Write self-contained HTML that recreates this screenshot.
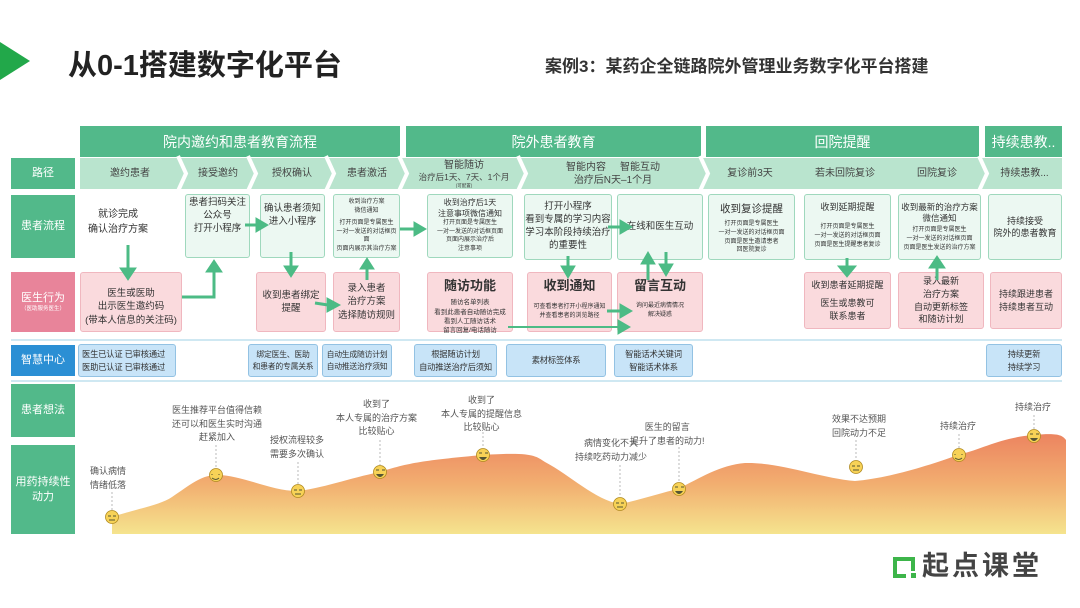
<!DOCTYPE html>
<html><head><meta charset="utf-8"><style>
*{margin:0;padding:0;box-sizing:border-box}
body{width:1080px;height:608px;background:#fff;position:relative;overflow:hidden;font-family:"Liberation Sans","Noto Sans CJK SC",sans-serif;color:#333}
.a{position:absolute}
.lab{position:absolute;left:11px;width:64px;background:#52b98a;color:#fff;font-size:11px;display:flex;flex-direction:column;align-items:center;justify-content:center;text-align:center;line-height:1.35}
.hd{position:absolute;top:126px;height:31px;background:#52b98a;color:#fff;font-size:14px;display:flex;align-items:center;justify-content:center}
.pt{position:absolute;top:158px;height:31px;color:#444;font-size:10px;display:flex;flex-direction:column;align-items:center;justify-content:center;text-align:center;line-height:1.3}
.g{position:absolute;background:#ecf8f2;border:1px solid #9fd8bd;border-radius:3px;font-size:9.5px;display:flex;flex-direction:column;align-items:center;justify-content:center;text-align:center;line-height:1.35;color:#333}
.p{position:absolute;background:#fadadd;border:1px solid #f0b7bf;border-radius:3px;font-size:9.5px;display:flex;flex-direction:column;align-items:center;justify-content:center;text-align:center;line-height:1.4;color:#333}
.b{position:absolute;top:344px;height:33px;background:#c8e4f8;border:1px solid #93c2e3;border-radius:3px;font-size:8.3px;display:flex;flex-direction:column;align-items:center;justify-content:center;text-align:center;line-height:1.5;color:#333;white-space:nowrap;letter-spacing:-0.2px;overflow:hidden}
.s{font-size:6px;line-height:1.45}
.big{font-size:13px;font-weight:bold;margin-bottom:3px}
.t{position:absolute;font-size:9px;color:#555;text-align:center;line-height:1.5;white-space:nowrap}
</style></head><body>
<svg class="a" style="left:0;top:0" width="1080" height="608">
<polygon points="0,42 30,61 0,80" fill="#22a84a"/>
</svg>
<div class="a" style="left:68px;top:42px;font-size:29px;font-weight:bold;color:#222">从0-1搭建数字化平台</div>
<div class="a" style="left:545px;top:52px;font-size:17px;font-weight:bold;color:#333">案例3：某药企全链路院外管理业务数字化平台搭建</div>

<div class="hd" style="left:80px;width:320px">院内邀约和患者教育流程</div>
<div class="hd" style="left:406px;width:295px">院外患者教育</div>
<div class="hd" style="left:706px;width:273px">回院提醒</div>
<div class="hd" style="left:985px;width:77px">持续患教..</div>

<svg class="a" style="left:0;top:0" width="1080" height="608">
<rect x="80" y="158" width="982" height="31" fill="#b9e4ce"/>
<g fill="none" stroke="#fff" stroke-width="4">
<polyline points="178,156 186,173.5 178,191"/>
<polyline points="248,156 256,173.5 248,191"/>
<polyline points="326,156 334,173.5 326,191"/>
<polyline points="399,156 407,173.5 399,191"/>
<polyline points="518,156 526,173.5 518,191"/>
<polyline points="700,156 708,173.5 700,191"/>
<polyline points="979,156 987,173.5 979,191"/>
</g>
<line x1="11" y1="340" x2="1062" y2="340" stroke="#bfe0ee" stroke-width="1.5"/>
<line x1="11" y1="381" x2="1062" y2="381" stroke="#bfe0ee" stroke-width="1.5"/>
</svg>

<div class="lab" style="top:158px;height:31px">路径</div>
<div class="lab" style="top:195px;height:63px">患者流程</div>
<div class="lab" style="top:272px;height:60px;background:#e8849a">医生行为<span style="font-size:5.5px">（医助服务医生）</span></div>
<div class="lab" style="top:345px;height:31px;background:#2b8fd4">智慧中心</div>
<div class="lab" style="top:384px;height:53px">患者想法</div>
<div class="lab" style="top:445px;height:89px">用药持续性<br>动力</div>

<div class="pt" style="left:80px;width:100px">邀约患者</div>
<div class="pt" style="left:186px;width:64px">接受邀约</div>
<div class="pt" style="left:256px;width:72px">授权确认</div>
<div class="pt" style="left:334px;width:66px">患者激活</div>
<div class="pt" style="left:408px;width:112px">智能随访<span style="font-size:8.5px">治疗后1天、7天、1个月</span><span style="font-size:4.5px">(可配置)</span></div>
<div class="pt" style="left:526px;width:174px">智能内容&nbsp;&nbsp;&nbsp;&nbsp;&nbsp;智能互动<span>治疗后N天–1个月</span></div>
<div class="pt" style="left:708px;width:84px">复诊前3天</div>
<div class="pt" style="left:795px;width:100px">若未回院复诊</div>
<div class="pt" style="left:895px;width:84px">回院复诊</div>
<div class="pt" style="left:987px;width:75px">持续患教...</div>

<div class="t" style="left:88px;top:207px;font-size:10px;color:#333">就诊完成<br>确认治疗方案</div>
<div class="g" style="left:185px;top:194px;width:65px;height:64px;justify-content:flex-start;padding-top:2px">患者扫码关注<br>公众号<br>打开小程序</div>
<div class="g" style="left:260px;top:194px;width:65px;height:64px;justify-content:flex-start;padding-top:8px">确认患者须知<br>进入小程序</div>
<div class="g" style="left:333px;top:194px;width:67px;height:64px"><span class="s">收到治疗方案<br>微信通知</span><span class="s" style="margin-top:3px">打开页面是专属医生<br>一对一发送的对话框页面<br>页面内展示其治疗方案</span></div>
<div class="g" style="left:427px;top:194px;width:86px;height:64px;font-size:8px;line-height:1.3">收到治疗后1天<br>注意事项微信通知<span class="s">打开页面是专属医生<br>一对一发送的对话框页面<br>页面内展示治疗后<br>注意事项</span></div>
<div class="g" style="left:524px;top:194px;width:88px;height:66px;font-size:9.5px">打开小程序<br>看到专属的学习内容<br>学习本阶段持续治疗<br>的重要性</div>
<div class="g" style="left:617px;top:194px;width:86px;height:66px">在线和医生互动</div>
<div class="g" style="left:708px;top:194px;width:87px;height:66px;justify-content:flex-start;padding-top:7px"><span style="font-size:10.5px;margin-bottom:4px">收到复诊提醒</span><span class="s">打开页面是专属医生<br>一对一发送的对话框页面<br>页面是医生邀请患者<br>回医院复诊</span></div>
<div class="g" style="left:804px;top:194px;width:87px;height:66px;justify-content:flex-start;padding-top:6px"><span style="font-size:9px;margin-bottom:10px">收到延期提醒</span><span class="s">打开页面是专属医生<br>一对一发送的对话框页面<br>页面是医生提醒患者复诊</span></div>
<div class="g" style="left:898px;top:194px;width:83px;height:66px;font-size:8.5px">收到最新的治疗方案<br>微信通知<span class="s" style="margin-top:2px">打开页面是专属医生<br>一对一发送的对话框页面<br>页面是医生发送的治疗方案</span></div>
<div class="g" style="left:988px;top:194px;width:74px;height:66px;font-size:9px">持续接受<br>院外的患者教育</div>

<div class="p" style="left:80px;top:272px;width:102px;height:60px;padding-top:10px">医生或医助<br>出示医生邀约码<br>(带本人信息的关注码)</div>
<div class="p" style="left:256px;top:272px;width:70px;height:60px">收到患者绑定<br>提醒</div>
<div class="p" style="left:333px;top:272px;width:67px;height:60px">录入患者<br>治疗方案<br>选择随访规则</div>
<div class="p" style="left:427px;top:272px;width:86px;height:60px;justify-content:flex-start;padding-top:4px"><span class="big">随访功能</span><span class="s" style="font-size:6.5px">随访名单列表<br>看到此患者自动随访完成<br>看到人工随访话术<br>留言回复/电话随访</span></div>
<div class="p" style="left:527px;top:272px;width:85px;height:60px;justify-content:flex-start;padding-top:4px"><span class="big" style="margin-bottom:8px">收到通知</span><span class="s" style="font-size:6px">可查看患者打开小程序通知<br>并查看患者的浏览路径</span></div>
<div class="p" style="left:617px;top:272px;width:86px;height:60px;justify-content:flex-start;padding-top:4px"><span class="big" style="margin-bottom:7px">留言互动</span><span class="s" style="font-size:6px">询问最近病情情况<br>解决疑惑</span></div>
<div class="p" style="left:804px;top:272px;width:87px;height:57px;font-size:9px"><span style="margin-bottom:6px">收到患者延期提醒</span>医生或患教可<br>联系患者</div>
<div class="p" style="left:898px;top:272px;width:86px;height:57px;font-size:9px">录入最新<br>治疗方案<br>自动更新标签<br>和随访计划</div>
<div class="p" style="left:990px;top:272px;width:72px;height:57px;font-size:9px">持续跟进患者<br>持续患者互动</div>

<div class="b" style="left:78px;width:98px;align-items:flex-start;padding-left:3px">医生已认证 已审核通过<br>医助已认证 已审核通过</div>
<div class="b" style="left:248px;width:70px;font-size:7.8px">绑定医生、医助<br>和患者的专属关系</div>
<div class="b" style="left:322px;width:70px;font-size:7.8px">自动生成随访计划<br>自动推送治疗须知</div>
<div class="b" style="left:414px;width:83px">根据随访计划<br>自动推送治疗后须知</div>
<div class="b" style="left:506px;width:100px">素材标签体系</div>
<div class="b" style="left:614px;width:79px">智能话术关键词<br>智能话术体系</div>
<div class="b" style="left:986px;width:76px">持续更新<br>持续学习</div>

<svg class="a" style="left:0;top:0" width="1080" height="608">
<defs><linearGradient id="gr" x1="0" y1="0" x2="0" y2="1">
<stop offset="0" stop-color="#ec8460"/><stop offset="0.5" stop-color="#f2ae70"/><stop offset="1" stop-color="#f5e48e"/></linearGradient></defs>
<path d="M112,517 C140,508 160,505 172,497 C190,485 200,476 215,475 C240,474 270,491 297,491 C320,489 350,478 380,472 C410,462 430,460 482,455 C530,452 535,455 545,462 C570,475 595,500 620,504 C640,500 660,493 678,489 C700,478 720,465 745,463 C780,462 820,478 855,481 C890,478 930,465 958,455 C985,448 1000,438 1033,435 C1055,433 1062,434 1066,440 L1066,534 L112,534 Z" fill="url(#gr)"/>
<g stroke="#aaa" stroke-width="0.8" stroke-dasharray="2,2">
<line x1="112" y1="492" x2="112" y2="510"/><line x1="216" y1="445" x2="216" y2="468"/><line x1="298" y1="462" x2="298" y2="484"/><line x1="380" y1="440" x2="380" y2="465"/><line x1="483" y1="432" x2="483" y2="448"/><line x1="620" y1="465" x2="620" y2="497"/><line x1="679" y1="447" x2="679" y2="482"/><line x1="856" y1="440" x2="856" y2="460"/><line x1="959" y1="434" x2="959" y2="448"/><line x1="1034" y1="415" x2="1034" y2="429"/>
</g>
<g fill="#f7d257" stroke="#b08a20" stroke-width="0.8">
<circle cx="112" cy="517" r="6.5"/><circle cx="216" cy="475" r="6.5"/><circle cx="298" cy="491" r="6.5"/><circle cx="380" cy="472" r="6.5"/><circle cx="483" cy="455" r="6.5"/><circle cx="620" cy="504" r="6.5"/><circle cx="679" cy="489" r="6.5"/><circle cx="856" cy="467" r="6.5"/><circle cx="959" cy="455" r="6.5"/><circle cx="1034" cy="436" r="6.5"/>
</g>
<g stroke="#553" stroke-width="1" fill="none">
<path d="M108,516h3M113,516h3M109,520h6"/><path d="M212,474v1M219,474v1M212,478q4,3 7,0"/><path d="M294,490h3M299,490h3M295,494h6"/><path d="M376,470h3M382,470h3"/><path d="M479,453h3M485,453h3"/><path d="M616,503h3M621,503h3M617,507h6"/><path d="M675,487h3M681,487h3"/><path d="M852,466h3M857,466h3M853,470h6"/><path d="M955,454v1M962,454v1M955,458q4,3 7,0"/><path d="M1030,434h3M1036,434h3"/>
</g>
<g fill="#553"><path d="M376,474h8q-4,6 -8,0z"/><path d="M479,457h8q-4,6 -8,0z"/><path d="M675,491h8q-4,6 -8,0z"/><path d="M1030,438h8q-4,6 -8,0z"/></g>
<g fill="#4cbb85" stroke="#4cbb85">
<line x1="128" y1="245" x2="128" y2="268" stroke-width="3"/><polygon points="120,268 136,268 128,280"/>
<polyline points="182,297 214,297 214,272" fill="none" stroke-width="3"/><polygon points="206,272 222,272 214,260"/>
<line x1="245" y1="225" x2="256" y2="225" stroke-width="3"/><polygon points="256,218 256,232 268,225"/>
<line x1="291" y1="252" x2="291" y2="266" stroke-width="3"/><polygon points="284,266 298,266 291,277"/>
<line x1="315" y1="303" x2="328" y2="305" stroke-width="3"/><polygon points="327,298 327,312 340,305"/>
<line x1="367" y1="280" x2="367" y2="268" stroke-width="3"/><polygon points="360,269 374,269 367,258"/>
<line x1="400" y1="229" x2="414" y2="229" stroke-width="3"/><polygon points="414,222 414,236 426,229"/>
<line x1="568" y1="256" x2="568" y2="268" stroke-width="3"/><polygon points="561,266 575,266 568,278"/>
<line x1="608" y1="227" x2="620" y2="227" stroke-width="3"/><polygon points="620,220 620,234 632,227"/>
<line x1="648" y1="280" x2="648" y2="262" stroke-width="3"/><polygon points="641,264 655,264 648,252"/>
<line x1="666" y1="252" x2="666" y2="266" stroke-width="3"/><polygon points="659,264 673,264 666,276"/>
<line x1="607" y1="311" x2="620" y2="311" stroke-width="3"/><polygon points="620,304 620,318 632,311"/>
<line x1="508" y1="327" x2="618" y2="327" stroke-width="2"/><polygon points="618,320 618,334 630,327"/>
<line x1="847" y1="258" x2="847" y2="266" stroke-width="3"/><polygon points="838,266 856,266 847,277"/>
<line x1="937" y1="280" x2="937" y2="266" stroke-width="3"/><polygon points="929,268 945,268 937,256"/>
</g>
<g fill="#3db54a"><path d="M893,557h22v14h-4v-10h-14v13h9v4h-13z"/><rect x="911" y="573" width="5" height="5"/></g>
</svg>

<div class="t" style="left:90px;top:465px">确认病情<br>情绪低落</div>
<div class="t" style="left:172px;top:404px">医生推荐平台值得信赖<br>还可以和医生实时沟通<br>赶紧加入</div>
<div class="t" style="left:270px;top:434px">授权流程较多<br>需要多次确认</div>
<div class="t" style="left:336px;top:398px">收到了<br>本人专属的治疗方案<br>比较贴心</div>
<div class="t" style="left:441px;top:394px">收到了<br>本人专属的提醒信息<br>比较贴心</div>
<div class="t" style="left:575px;top:437px">病情变化不大<br>持续吃药动力减少</div>
<div class="t" style="left:630px;top:421px">医生的留言<br>提升了患者的动力!</div>
<div class="t" style="left:832px;top:413px">效果不达预期<br>回院动力不足</div>
<div class="t" style="left:940px;top:420px">持续治疗</div>
<div class="t" style="left:1015px;top:401px">持续治疗</div>

<div class="a" style="left:922px;top:552px;font-size:27px;font-weight:bold;color:#444;letter-spacing:3px;line-height:1.1">起点课堂</div>
</body></html>
